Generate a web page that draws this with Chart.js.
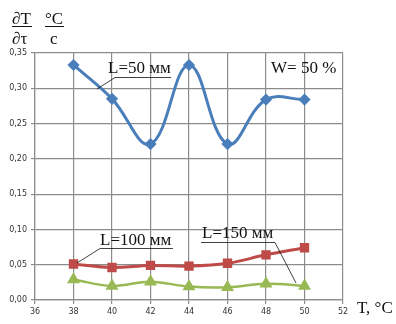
<!DOCTYPE html>
<html>
<head>
<meta charset="utf-8">
<script src="https://cdn.jsdelivr.net/npm/chart.js@4"></script>
<style>
  html, body { margin: 0; padding: 0; background: #fff; }
  #wrap { width: 396px; height: 324px; position: relative; }
</style>
</head>
<body>
<div id="wrap"><canvas id="chart1" width="396" height="324"></canvas></div>
<script>
// temperatures along the x axis
const temps = [38, 40, 42, 44, 46, 48, 50];
// dT/dtau for each length
const l50 = [0.333, 0.285, 0.221, 0.333, 0.221, 0.284, 0.284];
const l100 = [0.051, 0.046, 0.049, 0.048, 0.052, 0.064, 0.074];
const l150 = [0.029, 0.020, 0.026, 0.019, 0.018, 0.023, 0.020];
// axis ranges
const xTicks = [36, 38, 40, 42, 44, 46, 48, 50, 52];
const yTicks = [0, 0.05, 0.10, 0.15, 0.20, 0.25, 0.30, 0.35];

const pts = (ys) => temps.map((t, i) => ({ x: t, y: ys[i] }));

const serif = '"Liberation Serif", "Times New Roman", serif';

// text labels drawn over the plot like in the original figure
const notes = {
  id: "notes",
  afterDraw(chart) {
    const c = chart.ctx;
    c.save();
    c.fillStyle = "#111";
    c.strokeStyle = "#111";
    c.textBaseline = "alphabetic";

    c.font = "17px " + serif;
    c.fillText("\u2202T", 12, 24);
    c.fillText("\u2202\u03c4", 12, 44);
    c.fillText("\u00b0C", 45, 24);
    c.fillText("c", 50, 44);
    c.lineWidth = 1;
    c.beginPath();
    c.moveTo(12, 26.5); c.lineTo(32, 26.5);
    c.moveTo(45, 26.5); c.lineTo(64, 26.5);
    c.stroke();

    c.font = "17px " + serif;
    c.fillText("L=50 мм", 108, 73);
    c.fillText("L=100 мм", 100, 245);
    c.fillText("L=150 мм", 202, 238);
    c.fillText("W= 50 %", 271, 73);
    c.fillText("T, \u00b0C", 357, 313);

    c.lineWidth = 0.8;
    c.beginPath();
    c.moveTo(171, 77.5); c.lineTo(115, 77.5); c.lineTo(97, 89);
    c.moveTo(173, 248.5); c.lineTo(100, 248.5); c.lineTo(77, 263);
    c.moveTo(201, 242.5); c.lineTo(275, 242.5); c.lineTo(296, 283);
    c.stroke();
    c.restore();
  }
};

const tickFont = { family: '"DejaVu Sans", sans-serif', size: 8 };

new Chart(document.getElementById("chart1"), {
  type: "line",
  data: {
    datasets: [
      {
        label: "L=50",
        data: pts(l50),
        borderColor: "#4a7ebb",
        backgroundColor: "#4a7ebb",
        borderWidth: 3,
        pointStyle: "rectRot",
        pointRadius: 4,
        tension: 0.4
      },
      {
        label: "L=100",
        data: pts(l100),
        borderColor: "#be4b48",
        backgroundColor: "#be4b48",
        borderWidth: 3,
        pointStyle: "rect",
        pointRadius: 4.5,
        tension: 0.4
      },
      {
        label: "L=150",
        data: pts(l150),
        borderColor: "#98b954",
        backgroundColor: "#98b954",
        borderWidth: 2.5,
        pointStyle: "triangle",
        pointRadius: 5,
        tension: 0.4
      }
    ]
  },
  options: {
    responsive: false,
    animation: false,
    layout: { padding: { top: 53, right: 53, left: 0, bottom: 0 } },
    plugins: { legend: { display: false }, tooltip: { enabled: false } },
    scales: {
      x: {
        type: "linear",
        min: 36, max: 52,
        afterBuildTicks: (s) => { s.ticks = xTicks.map(v => ({ value: v })); },
        afterFit: (s) => { s.height = 24; },
        grid: { color: "#8c8c8c", lineWidth: 1.2, tickLength: 4 },
        border: { color: "#8c8c8c", width: 1.2 },
        ticks: { font: tickFont, color: "#333", padding: 3, maxRotation: 0,
                 callback: (v) => String(v) }
      },
      y: {
        min: 0, max: 0.35,
        afterBuildTicks: (s) => { s.ticks = yTicks.map(v => ({ value: v })); },
        afterFit: (s) => { s.width = 35; },
        grid: { color: "#8c8c8c", lineWidth: 1.2, tickLength: 4 },
        border: { color: "#8c8c8c", width: 1.2 },
        ticks: { font: tickFont, color: "#333", padding: 4,
                 callback: (v) => v.toFixed(2).replace(".", ",") }
      }
    }
  },
  plugins: [notes]
});
</script>
</body>
</html>
